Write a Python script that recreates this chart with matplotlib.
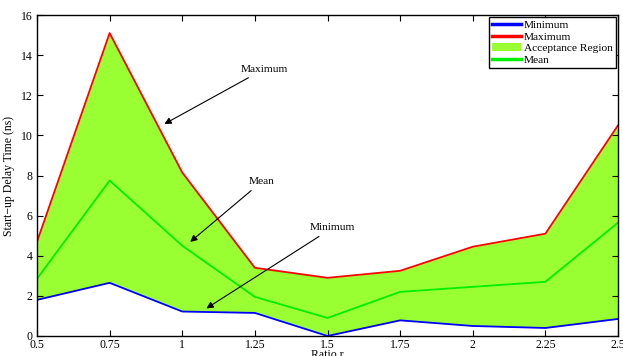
import matplotlib
matplotlib.use("Agg")
import matplotlib.pyplot as plt

plt.rcParams['font.family'] = ['Liberation Serif', 'DejaVu Serif']

ratio = [0.5, 0.75, 1.0, 1.25, 1.5, 1.75, 2.0, 2.25, 2.5]
minimum = [1.8, 2.65, 1.22, 1.15, 0.0, 0.78, 0.5, 0.4, 0.85]
maximum = [4.7, 15.1, 8.15, 3.4, 2.9, 3.25, 4.45, 5.1, 10.5]
mean = [2.85, 7.75, 4.5, 1.95, 0.9, 2.2, 2.45, 2.7, 5.65]
xticks = [0.5, 0.75, 1, 1.25, 1.5, 1.75, 2, 2.25, 2.5]
xticklabels = ['0.5', '0.75', '1', '1.25', '1.5', '1.75', '2', '2.25', '2.5']
yticks = [0, 2, 4, 6, 8, 10, 12, 14, 16]

fig = plt.figure(figsize=(6.23, 3.56), dpi=100)
ax = fig.add_axes([37/623, 20/356, 581/623, 321/356])

fill = ax.fill_between(ratio, minimum, maximum, color='#99ff33', linewidth=0, label='Acceptance Region')
l_min, = ax.plot(ratio, minimum, color='#0000ff', lw=1.3, label='Minimum')
l_max, = ax.plot(ratio, maximum, color='#ff0000', lw=1.3, label='Maximum')
l_mean, = ax.plot(ratio, mean, color='#00ee00', lw=1.3, label='Mean')

ax.set_xlim(0.5, 2.5)
ax.set_ylim(0, 16)
ax.set_xticks(xticks)
ax.set_xticklabels(xticklabels)
ax.set_yticks(yticks)
ax.tick_params(direction='in', top=True, right=True, labelsize=8.5, length=4, pad=3)
ax.tick_params(axis='x', pad=2)
for s in ax.spines.values():
    s.set_linewidth(1.0)

ax.set_xlabel('Ratio r', fontsize=8.5, labelpad=-1)
ax.set_ylabel('Start\u2212up Delay Time (ns)', fontsize=8.5, labelpad=4)

leg = ax.legend([l_min, l_max, fill, l_mean], ['Minimum', 'Maximum', 'Acceptance Region', 'Mean'],
                loc='upper right', fontsize=8.2, frameon=True, fancybox=False,
                edgecolor='black', framealpha=1, borderpad=0.25, labelspacing=0.15,
                handlelength=2.5, handletextpad=0.3, borderaxespad=0.2)
leg.get_frame().set_linewidth(1.0)
for h in leg.get_lines():
    h.set_linewidth(2.5)

arrow = dict(arrowstyle='-|>', color='black', lw=0.8, mutation_scale=10)
ax.annotate('Maximum', xy=(0.93, 10.5), xytext=(1.2, 13.3), fontsize=8.2,
            ha='left', va='center', arrowprops=arrow)
ax.annotate('Mean', xy=(1.02, 4.6), xytext=(1.23, 7.7), fontsize=8.2,
            ha='left', va='center', arrowprops=arrow)
ax.annotate('Minimum', xy=(1.075, 1.3), xytext=(1.44, 5.4), fontsize=8.2,
            ha='left', va='center', arrowprops=arrow)

fig.savefig('out.png', dpi=100)
